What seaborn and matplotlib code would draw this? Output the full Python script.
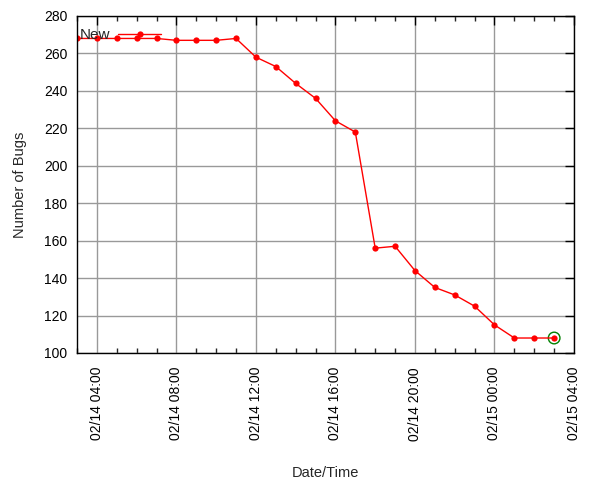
import pandas as pd
import numpy as np
import seaborn as sns
import matplotlib
import matplotlib.pyplot as plt
import matplotlib.dates as mdates

matplotlib.use('Agg')
sns.set_style("white")
plt.rcParams['font.family'] = ['Liberation Sans', 'DejaVu Sans']

# -------------------------------Datos
horas = ['2011-02-14 03:00', '2011-02-14 04:00', '2011-02-14 05:00', '2011-02-14 06:00',
         '2011-02-14 07:00', '2011-02-14 08:00', '2011-02-14 09:00', '2011-02-14 10:00',
         '2011-02-14 11:00', '2011-02-14 12:00', '2011-02-14 13:00', '2011-02-14 14:00',
         '2011-02-14 15:00', '2011-02-14 16:00', '2011-02-14 17:00', '2011-02-14 18:00',
         '2011-02-14 19:00', '2011-02-14 20:00', '2011-02-14 21:00', '2011-02-14 22:00',
         '2011-02-14 23:00', '2011-02-15 00:00', '2011-02-15 01:00', '2011-02-15 02:00',
         '2011-02-15 03:00']
bugs_new = [268, 268, 268, 268, 268, 267, 267, 267, 268, 258, 253, 244, 236, 224,
            218, 156, 157, 144, 135, 131, 125, 115, 108, 108, 108]

df = pd.DataFrame({'TIMESTAMP': pd.to_datetime(horas), 'New': bugs_new})

fig = plt.figure(figsize=(6, 4.8), dpi=100)
ax = fig.add_axes([0.1283, 0.2646, 0.8284, 0.7021])

sns.lineplot(data=df, x='TIMESTAMP', y='New', color='red', linewidth=1,
             marker='o', markersize=4.5, markeredgewidth=0, label='New', ax=ax)

# Ultimo punto resaltado con circulo verde
ultimo = df.iloc[[-1]]
sns.scatterplot(data=ultimo, x='TIMESTAMP', y='New', s=70, facecolor='none',
                edgecolor='green', linewidth=1, legend=False, ax=ax)

ax.set_xlim(pd.Timestamp('2011-02-14 03:00'), pd.Timestamp('2011-02-15 04:00'))
ax.set_ylim(100, 280)
ax.yaxis.set_major_locator(plt.MultipleLocator(20))

ax.xaxis.set_major_locator(mdates.HourLocator(byhour=[0, 4, 8, 12, 16, 20]))
ax.xaxis.set_minor_locator(mdates.HourLocator())
ax.xaxis.set_major_formatter(mdates.DateFormatter('%m/%d %H:%M'))
plt.setp(ax.get_xticklabels(), rotation=90, ha='center')

ax.grid(True, which='major', color='#999999', linewidth=1)
ax.tick_params(axis='both', which='major', direction='in', length=6.5, width=1,
               labelsize=10, colors='black', top=True, right=True)
ax.tick_params(axis='x', which='minor', direction='in', length=3.5, width=1,
               bottom=True, top=True)
ax.tick_params(axis='x', which='major', pad=10)
ax.tick_params(axis='y', which='major', pad=7)

for lado in ax.spines.values():
    lado.set_color('black')
    lado.set_linewidth(1)

ax.set_xlabel('Date/Time', fontsize=10.5, labelpad=18)
ax.set_ylabel('Number of Bugs', fontsize=10.5, labelpad=12)

ax.legend(loc='upper left', bbox_to_anchor=(0.0, 0.972), frameon=False,
          markerfirst=False, fontsize=11, handlelength=2.8, borderaxespad=0,
          borderpad=0.2, handletextpad=0.5)

plt.savefig('out.png')
